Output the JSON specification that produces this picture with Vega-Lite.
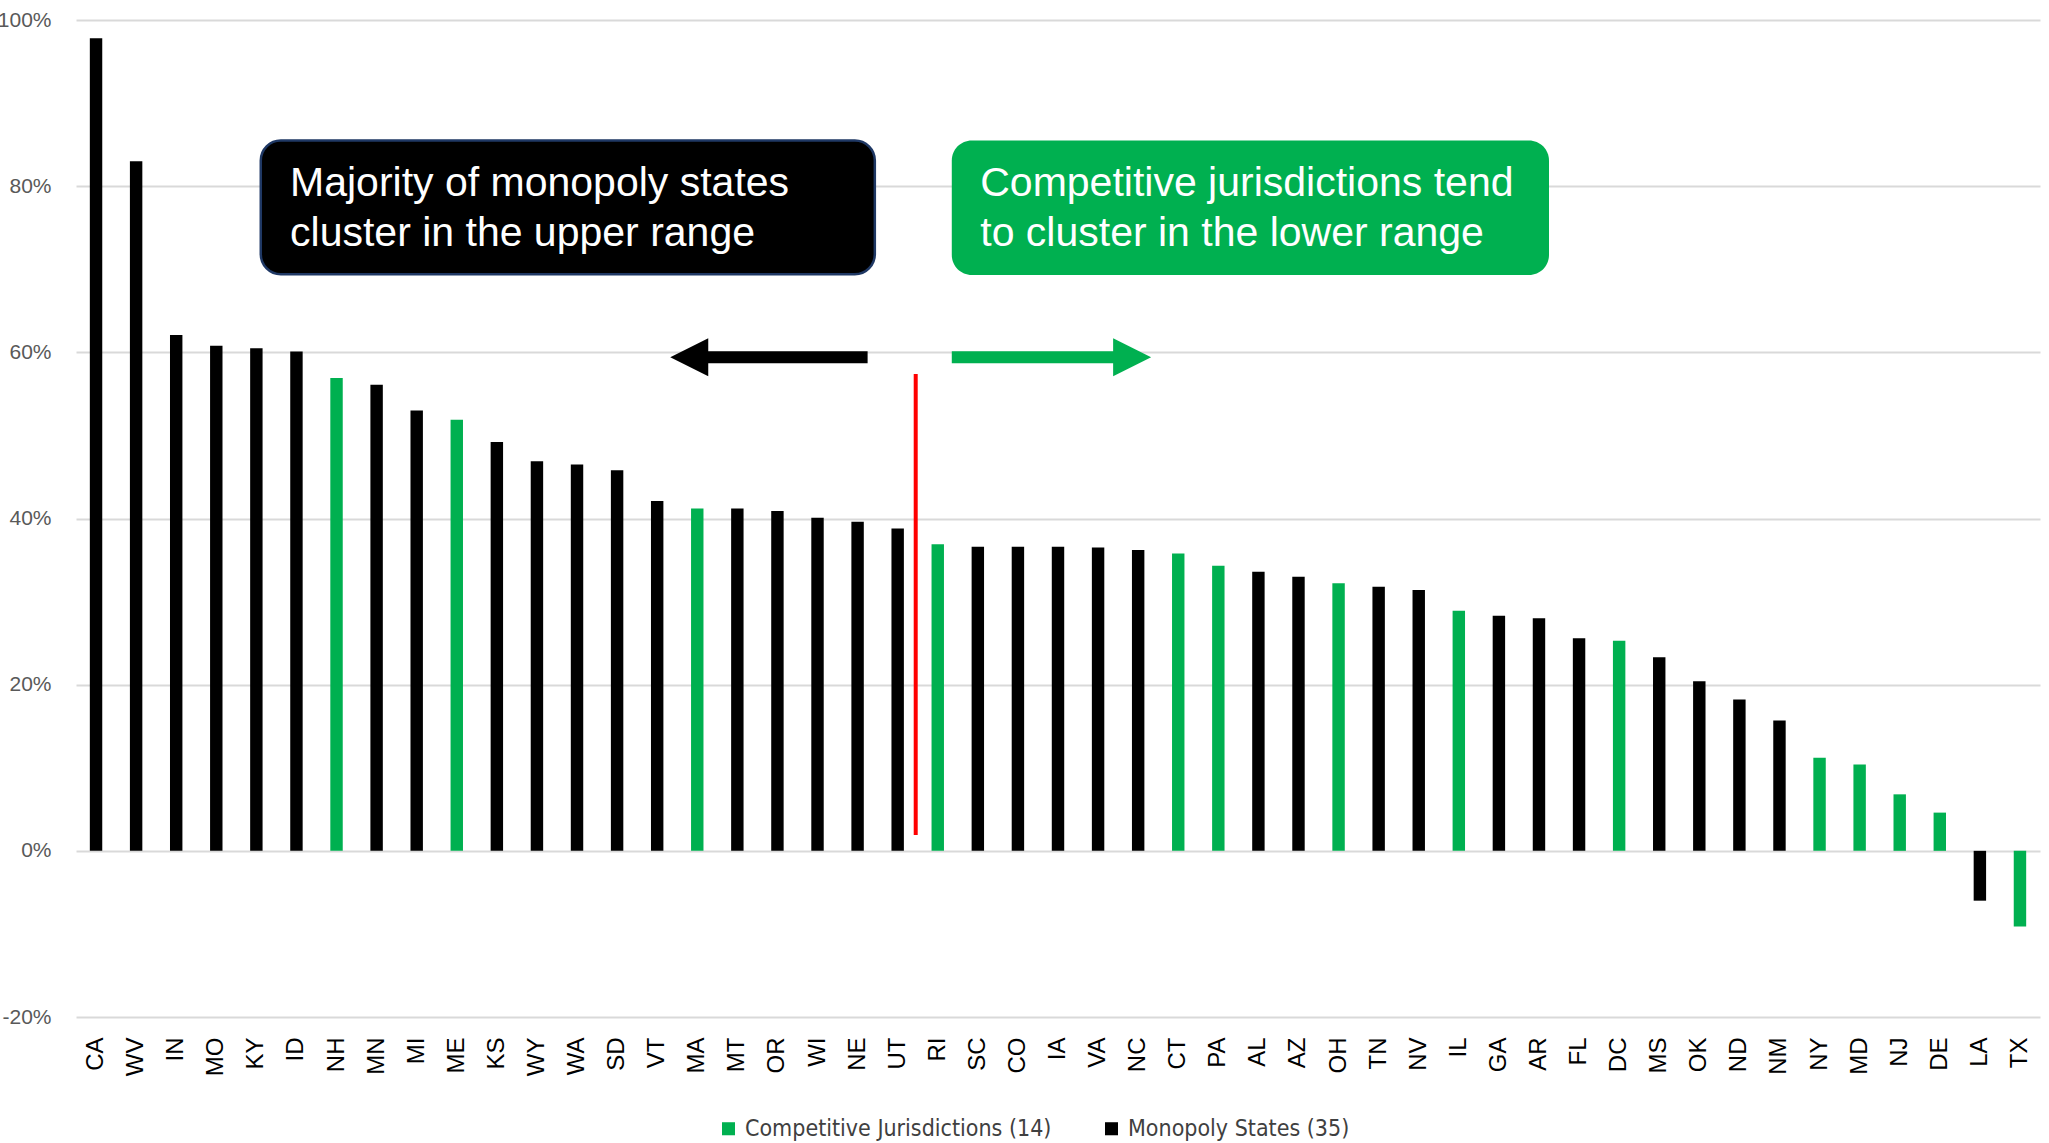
{
  "$schema": "https://vega.github.io/schema/vega-lite/v6.json",
  "width": 1964,
  "height": 997,
  "autosize": {"type": "none"},
  "padding": {"left": 76, "top": 20, "right": 9, "bottom": 126},
  "background": "white",
  "config": {"view": {"stroke": null}, "font": "Liberation Sans"},
  "layer": [
    {
      "data": {"values": [
        {"state": "CA", "value": 97.8, "group": "Monopoly States (35)"},
        {"state": "WV", "value": 83.0, "group": "Monopoly States (35)"},
        {"state": "IN", "value": 62.1, "group": "Monopoly States (35)"},
        {"state": "MO", "value": 60.8, "group": "Monopoly States (35)"},
        {"state": "KY", "value": 60.5, "group": "Monopoly States (35)"},
        {"state": "ID", "value": 60.1, "group": "Monopoly States (35)"},
        {"state": "NH", "value": 56.9, "group": "Competitive Jurisdictions (14)"},
        {"state": "MN", "value": 56.1, "group": "Monopoly States (35)"},
        {"state": "MI", "value": 53.0, "group": "Monopoly States (35)"},
        {"state": "ME", "value": 51.9, "group": "Competitive Jurisdictions (14)"},
        {"state": "KS", "value": 49.2, "group": "Monopoly States (35)"},
        {"state": "WY", "value": 46.9, "group": "Monopoly States (35)"},
        {"state": "WA", "value": 46.5, "group": "Monopoly States (35)"},
        {"state": "SD", "value": 45.8, "group": "Monopoly States (35)"},
        {"state": "VT", "value": 42.1, "group": "Monopoly States (35)"},
        {"state": "MA", "value": 41.2, "group": "Competitive Jurisdictions (14)"},
        {"state": "MT", "value": 41.2, "group": "Monopoly States (35)"},
        {"state": "OR", "value": 40.9, "group": "Monopoly States (35)"},
        {"state": "WI", "value": 40.1, "group": "Monopoly States (35)"},
        {"state": "NE", "value": 39.6, "group": "Monopoly States (35)"},
        {"state": "UT", "value": 38.8, "group": "Monopoly States (35)"},
        {"state": "RI", "value": 36.9, "group": "Competitive Jurisdictions (14)"},
        {"state": "SC", "value": 36.6, "group": "Monopoly States (35)"},
        {"state": "CO", "value": 36.6, "group": "Monopoly States (35)"},
        {"state": "IA", "value": 36.6, "group": "Monopoly States (35)"},
        {"state": "VA", "value": 36.5, "group": "Monopoly States (35)"},
        {"state": "NC", "value": 36.2, "group": "Monopoly States (35)"},
        {"state": "CT", "value": 35.8, "group": "Competitive Jurisdictions (14)"},
        {"state": "PA", "value": 34.3, "group": "Competitive Jurisdictions (14)"},
        {"state": "AL", "value": 33.6, "group": "Monopoly States (35)"},
        {"state": "AZ", "value": 33.0, "group": "Monopoly States (35)"},
        {"state": "OH", "value": 32.2, "group": "Competitive Jurisdictions (14)"},
        {"state": "TN", "value": 31.8, "group": "Monopoly States (35)"},
        {"state": "NV", "value": 31.4, "group": "Monopoly States (35)"},
        {"state": "IL", "value": 28.9, "group": "Competitive Jurisdictions (14)"},
        {"state": "GA", "value": 28.3, "group": "Monopoly States (35)"},
        {"state": "AR", "value": 28.0, "group": "Monopoly States (35)"},
        {"state": "FL", "value": 25.6, "group": "Monopoly States (35)"},
        {"state": "DC", "value": 25.3, "group": "Competitive Jurisdictions (14)"},
        {"state": "MS", "value": 23.3, "group": "Monopoly States (35)"},
        {"state": "OK", "value": 20.4, "group": "Monopoly States (35)"},
        {"state": "ND", "value": 18.2, "group": "Monopoly States (35)"},
        {"state": "NM", "value": 15.7, "group": "Monopoly States (35)"},
        {"state": "NY", "value": 11.2, "group": "Competitive Jurisdictions (14)"},
        {"state": "MD", "value": 10.4, "group": "Competitive Jurisdictions (14)"},
        {"state": "NJ", "value": 6.8, "group": "Competitive Jurisdictions (14)"},
        {"state": "DE", "value": 4.6, "group": "Competitive Jurisdictions (14)"},
        {"state": "LA", "value": -6.0, "group": "Monopoly States (35)"},
        {"state": "TX", "value": -9.1, "group": "Competitive Jurisdictions (14)"}
      ]},
      "mark": {"type": "bar"},
      "encoding": {
        "x": {"field": "state", "type": "nominal", "sort": null,
          "scale": {"paddingInner": 0.69, "paddingOuter": 0.345},
          "axis": {"title": null, "labelAngle": -90, "labelFontSize": 24, "labelFont": "Liberation Sans", "labelColor": "#000000", "domain": false, "ticks": false, "labelPadding": 20, "grid": false}},
        "y": {"field": "value", "type": "quantitative",
          "scale": {"domain": [-20, 100], "nice": false},
          "axis": {"title": null, "values": [-20, 0, 20, 40, 60, 80, 100], "labelExpr": "datum.value + '%'", "labelFontSize": 21, "labelFont": "Liberation Sans", "labelColor": "#595959", "domain": false, "ticks": false, "labelPadding": 25, "gridColor": "#d9d9d9", "gridWidth": 2}},
        "color": {"field": "group", "type": "nominal",
          "scale": {"domain": ["Competitive Jurisdictions (14)", "Monopoly States (35)"], "range": ["#00b050", "#000000"]},
          "legend": {"title": null, "orient": "none", "legendX": 641, "legendY": 1097, "direction": "horizontal", "symbolType": "square", "symbolSize": 170, "symbolStrokeWidth": 0, "labelFontSize": 23, "labelFont": "Liberation Sans Narrow, DejaVu Sans Condensed, sans-serif", "labelColor": "#404040", "labelOffset": 5, "labelLimit": 0, "columnPadding": 48}}
      }
    },
    {
      "data": {"values": [{"x1": 4.11, "x2": 19.43, "y1": 85.5, "y2": 69.4}]},
      "mark": {"type": "rect", "cornerRadius": 20, "fill": "#000000", "stroke": "#1f3864", "strokeWidth": 2.5},
      "encoding": {
        "x": {"field": "x1", "type": "quantitative", "scale": {"domain": [-0.5, 48.5], "nice": false, "zero": false}, "axis": null},
        "x2": {"field": "x2"},
        "y": {"field": "y1", "type": "quantitative"},
        "y2": {"field": "y2"}
      }
    },
    {
      "data": {"values": [{"x1": 21.35, "x2": 36.25, "y1": 85.5, "y2": 69.3}]},
      "mark": {"type": "rect", "cornerRadius": 20, "fill": "#00b050"},
      "encoding": {
        "x": {"field": "x1", "type": "quantitative", "scale": {"domain": [-0.5, 48.5], "nice": false, "zero": false}, "axis": null},
        "x2": {"field": "x2"},
        "y": {"field": "y1", "type": "quantitative"},
        "y2": {"field": "y2"}
      }
    },
    {
      "data": {"values": [
        {"x": 4.84, "y": 80.3, "label": "Majority of monopoly states"},
        {"x": 4.84, "y": 74.3, "label": "cluster in the upper range"},
        {"x": 22.06, "y": 80.3, "label": "Competitive jurisdictions tend"},
        {"x": 22.06, "y": 74.3, "label": "to cluster in the lower range"}
      ]},
      "mark": {"type": "text", "align": "left", "baseline": "middle", "fontSize": 41, "font": "Liberation Sans", "color": "#ffffff"},
      "encoding": {
        "x": {"field": "x", "type": "quantitative", "scale": {"domain": [-0.5, 48.5], "nice": false, "zero": false}, "axis": null},
        "y": {"field": "y", "type": "quantitative"},
        "text": {"field": "label"}
      }
    },
    {
      "data": {"values": [{"x1": 19.25, "x2": 15.2, "y": 59.4}]},
      "mark": {"type": "rule", "color": "#000000", "strokeWidth": 12, "strokeCap": "butt"},
      "encoding": {
        "x": {"field": "x1", "type": "quantitative", "scale": {"domain": [-0.5, 48.5], "nice": false, "zero": false}, "axis": null},
        "x2": {"field": "x2"},
        "y": {"field": "y", "type": "quantitative"}
      }
    },
    {
      "data": {"values": [{"x": 14.8, "y": 59.4}]},
      "mark": {"type": "point", "shape": "M-1,0L1,-1L1,1Z", "filled": true, "size": 1444, "color": "#000000", "opacity": 1},
      "encoding": {
        "x": {"field": "x", "type": "quantitative", "scale": {"domain": [-0.5, 48.5], "nice": false, "zero": false}, "axis": null},
        "y": {"field": "y", "type": "quantitative"}
      }
    },
    {
      "data": {"values": [{"x1": 21.35, "x2": 25.4, "y": 59.4}]},
      "mark": {"type": "rule", "color": "#00b050", "strokeWidth": 12, "strokeCap": "butt"},
      "encoding": {
        "x": {"field": "x1", "type": "quantitative", "scale": {"domain": [-0.5, 48.5], "nice": false, "zero": false}, "axis": null},
        "x2": {"field": "x2"},
        "y": {"field": "y", "type": "quantitative"}
      }
    },
    {
      "data": {"values": [{"x": 25.85, "y": 59.4}]},
      "mark": {"type": "point", "shape": "M1,0L-1,-1L-1,1Z", "filled": true, "size": 1444, "color": "#00b050", "opacity": 1},
      "encoding": {
        "x": {"field": "x", "type": "quantitative", "scale": {"domain": [-0.5, 48.5], "nice": false, "zero": false}, "axis": null},
        "y": {"field": "y", "type": "quantitative"}
      }
    },
    {
      "data": {"values": [{"x": 20.45, "y1": 57.4, "y2": 1.9}]},
      "mark": {"type": "rule", "color": "#ff0000", "strokeWidth": 4},
      "encoding": {
        "x": {"field": "x", "type": "quantitative", "scale": {"domain": [-0.5, 48.5], "nice": false, "zero": false}, "axis": null},
        "y": {"field": "y1", "type": "quantitative"},
        "y2": {"field": "y2"}
      }
    }
  ],
  "resolve": {"scale": {"x": "independent"}}
}
